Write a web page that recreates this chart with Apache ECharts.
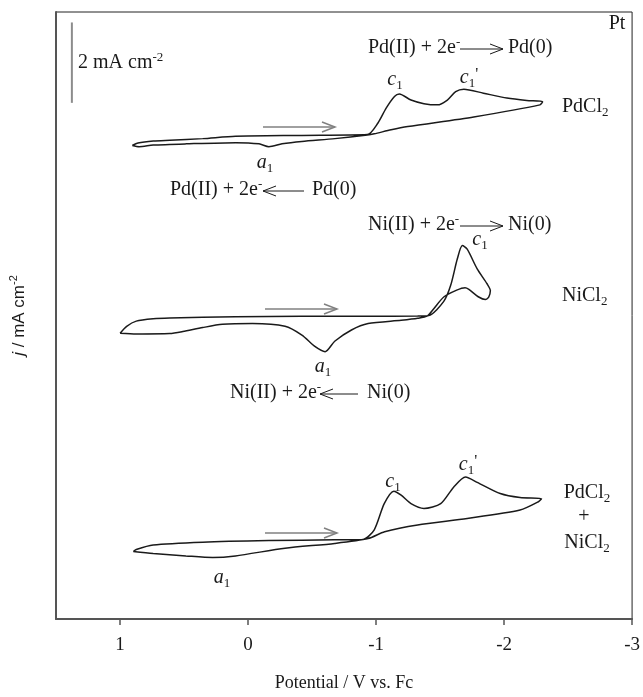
<!DOCTYPE html>
<html>
<head>
<meta charset="utf-8">
<script src="https://cdn.jsdelivr.net/npm/echarts@6/dist/echarts.min.js"></script>
<style>
  html, body { margin: 0; padding: 0; background: #fff; }
  #chart { width: 643px; height: 697px; }
</style>
</head>
<body>
<div id="chart"></div>
<script>
// CV loops on Pt, potential in V vs. Fc, current density in mA cm-2
// (each loop, current taken relative to its crossing point)
const potPd = [0.904, 0.86, 0.74, 0.61, 0.354, 0.098, -0.421, -0.932, -1.015, -1.079, -1.144, -1.182, -1.273, -1.374, -1.48, -1.557, -1.622, -1.686, -1.839, -2.022, -2.177, -2.301, -2.28, -1.763, -1.248, -1.118, -0.986, -0.932, -0.679, -0.421, -0.266, -0.163, -0.086, 0.096, 0.483, 0.741, 0.85, 0.904];
const curPd = [-0.27, -0.21, -0.16, -0.14, -0.1, -0.04, -0.02, 0, 0.29, 0.66, 0.95, 1.01, 0.86, 0.77, 0.74, 0.86, 1.07, 1.13, 1.03, 0.91, 0.85, 0.82, 0.74, 0.44, 0.2, 0.12, 0.02, -0.01, -0.1, -0.17, -0.23, -0.3, -0.23, -0.2, -0.23, -0.26, -0.3, -0.27];

const potNi = [0.999, 0.948, 0.873, 0.741, 0.612, 0.098, -0.421, -0.938, -1.325, -1.412, -1.529, -1.583, -1.635, -1.674, -1.712, -1.79, -1.867, -1.893, -1.88, -1.854, -1.802, -1.725, -1.695, -1.63, -1.529, -1.451, -1.402, -1.325, -1.196, -0.938, -0.808, -0.677, -0.602, -0.522, -0.421, -0.289, -0.034, 0.2, 0.354, 0.509, 0.612, 0.873, 0.999];
const curNi = [-0.44, -0.27, -0.14, -0.08, -0.06, -0.03, -0.02, -0.02, -0.01, 0, 0.35, 0.75, 1.41, 1.74, 1.65, 1.16, 0.79, 0.62, 0.46, 0.4, 0.46, 0.65, 0.69, 0.63, 0.46, 0.17, -0.01, -0.07, -0.12, -0.2, -0.36, -0.64, -0.9, -0.77, -0.49, -0.27, -0.2, -0.22, -0.3, -0.4, -0.45, -0.46, -0.44];

const potMix = [0.896, 0.873, 0.741, 0.354, -0.163, -0.677, -0.899, -0.986, -1.064, -1.139, -1.196, -1.273, -1.374, -1.505, -1.606, -1.699, -1.79, -1.97, -2.125, -2.293, -2.265, -2.125, -1.712, -1.325, -1.067, -0.938, -0.677, -0.289, 0.098, 0.276, 0.485, 0.741, 0.896];
const curMix = [-0.3, -0.25, -0.14, -0.07, -0.03, -0.01, 0, 0.24, 0.89, 1.2, 1.1, 0.89, 0.77, 0.89, 1.3, 1.55, 1.42, 1.14, 1.04, 1.01, 0.93, 0.73, 0.52, 0.36, 0.19, 0.02, -0.1, -0.22, -0.41, -0.45, -0.41, -0.35, -0.3];

// vertical stacking of the three loops (mA cm-2)
const offsetPd = 12.05;
const offsetNi = 7.55;
const offsetMix = 1.98;

const xTicks = [1, 0, -1, -2, -3];
const scaleBar = 2; // mA cm-2

const ink = '#1a1a1a';
const serif = '"Liberation Serif", "Times New Roman", serif';

const toPairs = (pot, cur, off) => pot.map((v, i) => [v, cur[i] + off]);

const rich = {
  sub: { font: '13px ' + serif, lineHeight: 12, verticalAlign: 'bottom', fill: ink },
  sup: { font: '13px ' + serif, lineHeight: 12, verticalAlign: 'top', fill: ink },
  pr: { font: '17px ' + serif, lineHeight: 16, verticalAlign: 'top', fill: ink },
  it: { font: 'italic 20px ' + serif, lineHeight: 24, fill: ink }
};

// texte posé en pixels
const txt = (x, y, text, align) => ({
  type: 'text',
  x: x,
  y: y,
  silent: true,
  style: {
    text: text,
    font: '20px ' + serif,
    lineHeight: 24,
    fill: ink,
    align: align || 'left',
    verticalAlign: 'middle',
    rich: rich
  }
});

// flèche horizontale: queue x1, pointe x2
const arrow = (x1, x2, y, color, width) => {
  const d = x2 > x1 ? -1 : 1;
  return [
    { type: 'line', silent: true, shape: { x1: x1, y1: y, x2: x2, y2: y }, style: { stroke: color, lineWidth: width } },
    { type: 'polyline', silent: true, shape: { points: [[x2 + d * 13, y - 5], [x2, y], [x2 + d * 13, y + 5]] }, style: { stroke: color, lineWidth: width, fill: null } }
  ];
};

const loopStyle = { color: ink, width: 1.5 };

const chart = echarts.init(document.getElementById('chart'));

const graphics = [
  txt(617, 24, 'Pt', 'center'),
  txt(78, 63, '2 mA cm{sup|-2}'),

  txt(368, 48, 'Pd(II) + 2e{sup|-}'),
  txt(508, 48, 'Pd(0)'),
  txt(395, 80, '{it|c}{sub|1}', 'center'),
  txt(469, 78, "{it|c}{sub|1}{pr|'}", 'center'),
  txt(562, 107, 'PdCl{sub|2}'),
  txt(265, 163, '{it|a}{sub|1}', 'center'),
  txt(170, 190, 'Pd(II) + 2e{sup|-}'),
  txt(312, 190, 'Pd(0)'),

  txt(368, 225, 'Ni(II) + 2e{sup|-}'),
  txt(508, 225, 'Ni(0)'),
  txt(480, 240, '{it|c}{sub|1}', 'center'),
  txt(562, 296, 'NiCl{sub|2}'),
  txt(323, 367, '{it|a}{sub|1}', 'center'),
  txt(230, 393, 'Ni(II) + 2e{sup|-}'),
  txt(367, 393, 'Ni(0)'),

  txt(393, 482, '{it|c}{sub|1}', 'center'),
  txt(468, 465, "{it|c}{sub|1}{pr|'}", 'center'),
  txt(222, 578, '{it|a}{sub|1}', 'center'),
  txt(587, 493, 'PdCl{sub|2}', 'center'),
  txt(584, 517, '+', 'center'),
  txt(587, 543, 'NiCl{sub|2}', 'center')
]
  .concat(arrow(460, 503, 49, ink, 1))
  .concat(arrow(304, 263, 191, ink, 1))
  .concat(arrow(460, 503, 226, ink, 1))
  .concat(arrow(358, 320, 394, ink, 1))
  .concat(arrow(263, 335, 127, '#808080', 1.5))
  .concat(arrow(265, 337, 309, '#808080', 1.5))
  .concat(arrow(265, 337, 533, '#808080', 1.5));

const option = {
  animation: false,
  backgroundColor: '#fff',
  grid: {
    left: 52,
    right: 10,
    top: 12,
    bottom: 74,
    show: true,
    borderColor: '#222',
    borderWidth: 1
  },
  xAxis: {
    type: 'value',
    inverse: true,
    min: -3,
    max: 1.5,
    name: 'Potential / V vs. Fc',
    nameLocation: 'middle',
    nameGap: 55,
    nameTextStyle: { fontFamily: serif, fontSize: 18, color: ink },
    axisLine: { onZero: false, lineStyle: { color: '#555', width: 2 } },
    axisTick: { show: true, length: 6, customValues: xTicks, lineStyle: { color: '#555', width: 1.5 } },
    axisLabel: { customValues: xTicks, margin: 17, fontFamily: serif, fontSize: 19, color: ink },
    splitLine: { show: false }
  },
  yAxis: {
    type: 'value',
    min: 0,
    max: 15.1,
    name: '{i|j} / mA cm{s|-2}',
    nameLocation: 'middle',
    nameGap: 26,
    nameTextStyle: {
      fontFamily: '"Liberation Sans", Arial, sans-serif',
      fontSize: 17,
      color: ink,
      lineHeight: 22,
      rich: {
        i: { fontFamily: '"Liberation Sans", Arial, sans-serif', fontStyle: 'italic', fontSize: 17, color: ink, lineHeight: 22 },
        s: { fontFamily: '"Liberation Sans", Arial, sans-serif', fontSize: 11, color: ink, lineHeight: 12, verticalAlign: 'top' }
      }
    },
    axisLine: { show: true, onZero: false, lineStyle: { color: '#555', width: 2 } },
    axisTick: { show: false },
    axisLabel: { show: false },
    splitLine: { show: false }
  },
  graphic: graphics,
  series: [
    {
      name: 'scale',
      type: 'line',
      symbol: 'none',
      lineStyle: { color: '#8c8c8c', width: 2 },
      data: [[1.376, 12.84], [1.376, 12.84 + scaleBar]]
    },
    {
      name: 'PdCl2',
      type: 'line',
      symbol: 'none',
      smooth: 0.25,
      lineStyle: loopStyle,
      data: toPairs(potPd, curPd, offsetPd)
    },
    {
      name: 'NiCl2',
      type: 'line',
      symbol: 'none',
      smooth: 0.25,
      lineStyle: loopStyle,
      data: toPairs(potNi, curNi, offsetNi)
    },
    {
      name: 'PdCl2 + NiCl2',
      type: 'line',
      symbol: 'none',
      smooth: 0.25,
      lineStyle: loopStyle,
      data: toPairs(potMix, curMix, offsetMix)
    }
  ]
};

chart.setOption(option);
</script>
</body>
</html>
